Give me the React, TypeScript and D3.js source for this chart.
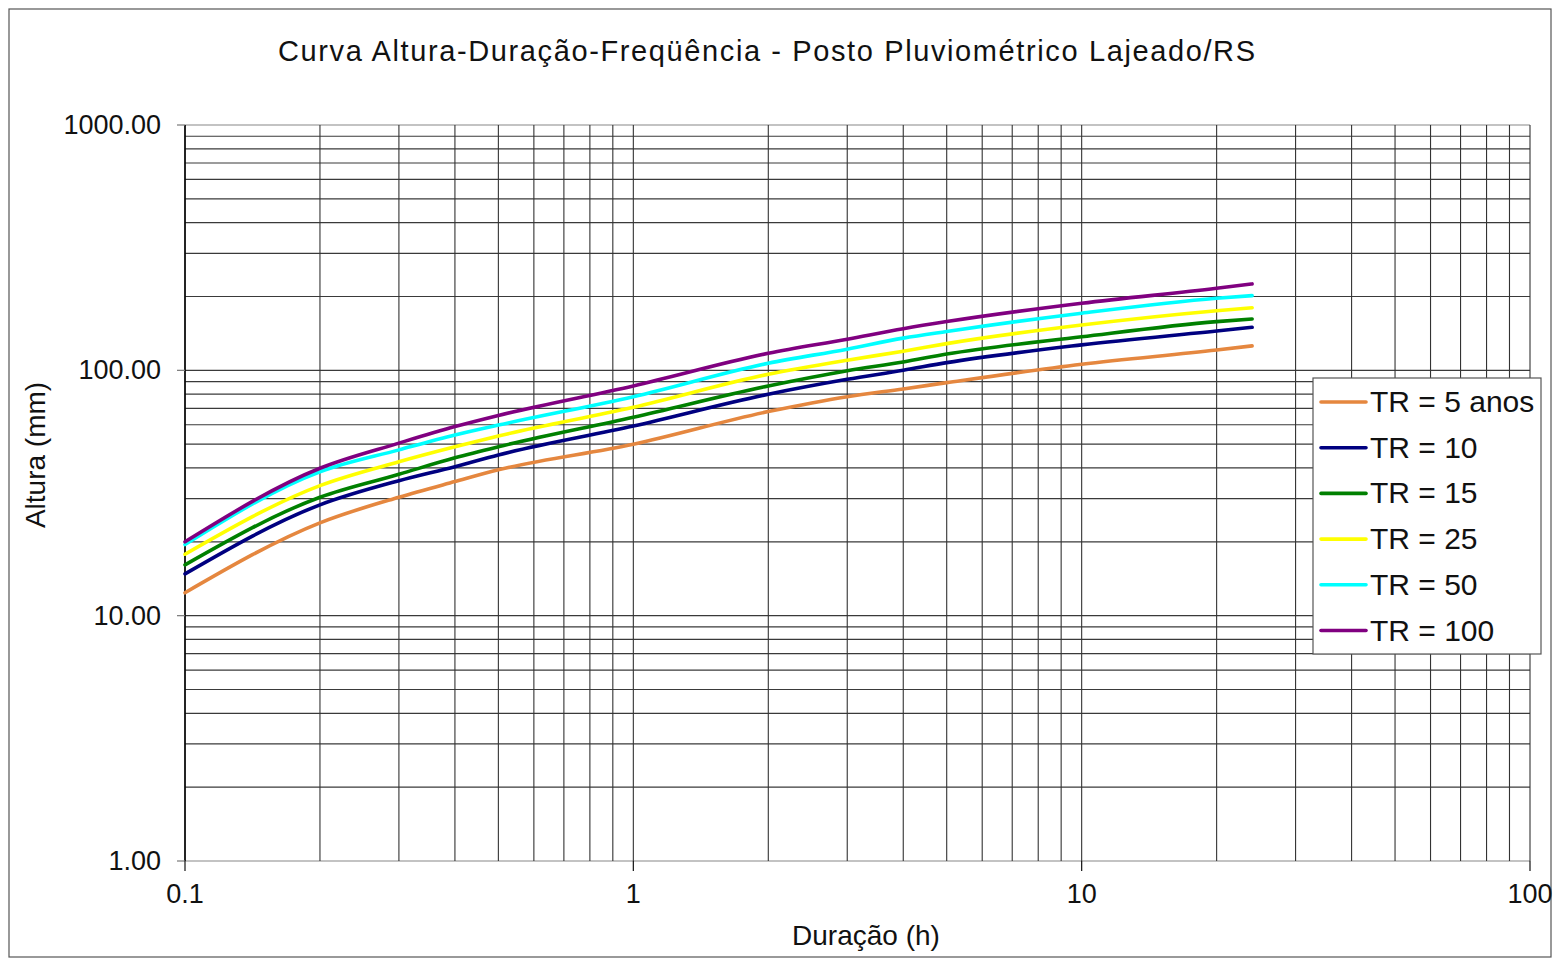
import React from "react";
import * as d3 from "d3";

// durações (h)
const durations = [0.1, 0.2, 0.3, 0.4, 0.5, 1, 2, 3, 4, 5, 10, 20, 24];

const tr5 = [12.4, 23.9, 30.4, 35.2, 39.3, 50.0, 67.9, 78.1, 84.0, 89.1, 105.9, 121, 125.8];
const tr10 = [14.8, 28.3, 35.5, 40.5, 45.2, 59.3, 79.9, 91.9, 100.1, 107.5, 127, 144.7, 149.8];
const tr15 = [16.1, 30.4, 37.7, 44.0, 48.8, 64.4, 86.4, 99.7, 108.2, 116.5, 137, 158, 162];
const tr25 = [17.8, 33.9, 42.4, 48.8, 54.0, 70.7, 96.4, 110, 119.6, 128.5, 153, 175, 180];
const tr50 = [19.5, 38.6, 47.4, 54.5, 59.8, 78.1, 106.9, 122, 135.3, 144, 170.9, 196.7, 201.6];
const tr100 = [20.0, 39.9, 50.5, 59.0, 65.5, 86.4, 117.4, 134, 147.8, 158, 187.7, 216, 225];

const seriesNames = ["TR = 5 anos", "TR = 10", "TR = 15", "TR = 25", "TR = 50", "TR = 100"];
const seriesColors = ["#E5873F", "#000080", "#008000", "#FFFF00", "#00FFFF", "#800080"];
const seriesValues = [tr5, tr10, tr15, tr25, tr50, tr100];

const xTickLabels = ["0.1", "1", "10", "100"];
const yTickLabels = ["1.00", "10.00", "100.00", "1000.00"];

export default function App() {
  const width = 1557;
  const height = 964;
  const plot = { left: 185, right: 1530, top: 125, bottom: 861 };
  const font = "Liberation Sans, Arial, sans-serif";

  const x = d3.scaleLog().domain([0.1, 100]).range([plot.left, plot.right]);
  const y = d3.scaleLog().domain([1, 1000]).range([plot.bottom, plot.top]);

  // linhas de grade menores (1..9 por década)
  const xGrid: number[] = [];
  const yGrid: number[] = [];
  [0.1, 1, 10].forEach((d) => {
    for (let k = 1; k <= 9; k++) xGrid.push(d * k);
  });
  [1, 10, 100].forEach((d) => {
    for (let k = 1; k <= 9; k++) yGrid.push(d * k);
  });
  xGrid.push(100);
  yGrid.push(1000);

  const line = d3
    .line<number>()
    .x((_, i) => x(durations[i]))
    .y((d) => y(d))
    .curve(d3.curveMonotoneX);

  const legend = { x: 1313, y: 378, w: 228, h: 276 };
  const rowH = 45.7;

  return (
    <svg width={width} height={height} style={{ display: "block", position: "absolute", left: 0, top: 0 }}>
      <rect x={0} y={0} width={width} height={height} fill="#fff" />
      <rect x={9} y={9} width={1542} height={948} fill="none" stroke="#555" strokeWidth={1.2} />

      <text
        x={278}
        y={61}
        fontFamily={font}
        fontSize={29}
        fill="#111"
        textLength={977}
        lengthAdjust="spacing"
      >
        Curva Altura-Duração-Freqüência - Posto Pluviométrico Lajeado/RS
      </text>

      {/* grade */}
      {yGrid.map((v, i) => (
        <line
          key={"gy" + i}
          x1={plot.left}
          x2={plot.right}
          y1={y(v)}
          y2={y(v)}
          stroke={v === 1 || v === 1000 ? "#888" : "#3a3a3a"}
          strokeWidth={1.2}
        />
      ))}
      {xGrid.map((v, i) => (
        <line
          key={"gx" + i}
          x1={x(v)}
          x2={x(v)}
          y1={plot.top}
          y2={plot.bottom}
          stroke="#333"
          strokeWidth={1.1}
        />
      ))}
      <line x1={plot.left} x2={plot.left} y1={plot.top} y2={plot.bottom} stroke="#000" strokeWidth={1.5} />

      {/* marcas e rótulos do eixo y */}
      {yTickLabels.map((t, i) => {
        const v = Math.pow(10, i);
        return (
          <g key={"ty" + i}>
            <line x1={plot.left - 8} x2={plot.left} y1={y(v)} y2={y(v)} stroke="#777" strokeWidth={1.2} />
            <text x={161} y={y(v) + 9} textAnchor="end" fontFamily={font} fontSize={27} fill="#111">
              {t}
            </text>
          </g>
        );
      })}

      {/* marcas e rótulos do eixo x */}
      {xTickLabels.map((t, i) => {
        const v = 0.1 * Math.pow(10, i);
        return (
          <g key={"tx" + i}>
            <line x1={x(v)} x2={x(v)} y1={plot.bottom} y2={plot.bottom + 10} stroke="#111" strokeWidth={1.2} />
            <text x={x(v)} y={903} textAnchor="middle" fontFamily={font} fontSize={27} fill="#111">
              {t}
            </text>
          </g>
        );
      })}

      <text x={866} y={945} textAnchor="middle" fontFamily={font} fontSize={28} fill="#111">
        Duração (h)
      </text>
      <text
        transform={`translate(45, 455) rotate(-90)`}
        textAnchor="middle"
        fontFamily={font}
        fontSize={28}
        fill="#111"
      >
        Altura (mm)
      </text>

      {/* curvas */}
      {seriesValues.map((vals, i) => (
        <path
          key={"s" + i}
          d={line(vals) || ""}
          fill="none"
          stroke={seriesColors[i]}
          strokeWidth={3.6}
          strokeLinejoin="round"
          strokeLinecap="round"
        />
      ))}

      {/* legenda */}
      <rect x={legend.x} y={legend.y} width={legend.w} height={legend.h} fill="#fff" stroke="#555" strokeWidth={1.2} />
      {seriesNames.map((name, i) => {
        const cy = legend.y + 24 + i * rowH;
        return (
          <g key={"l" + i}>
            <line x1={1321} x2={1366} y1={cy} y2={cy} stroke={seriesColors[i]} strokeWidth={3.6} strokeLinecap="round" />
            <text x={1370} y={cy + 10} fontFamily={font} fontSize={30} fill="#111">
              {name}
            </text>
          </g>
        );
      })}
    </svg>
  );
}
